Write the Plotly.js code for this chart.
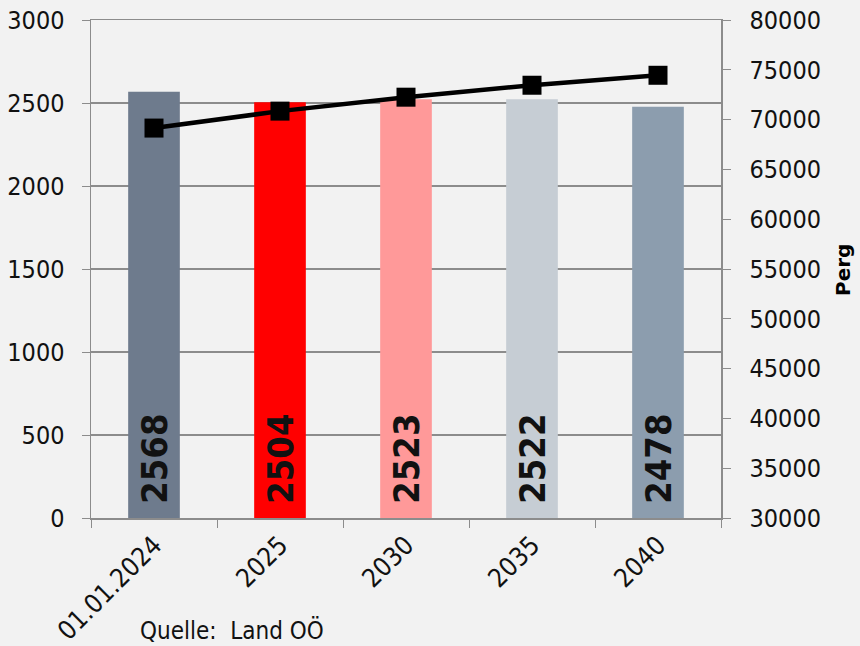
<!DOCTYPE html>
<html><head><meta charset="utf-8">
<script src="https://cdn.plot.ly/plotly-3.0.1.min.js"></script>
<style>body{margin:0;background:#F2F2F2}</style>
</head><body>
<div id="chart" style="width:860px;height:646px"></div>
<script>
const categories = ["01.01.2024", "2025", "2030", "2035", "2040"];
const barValues = [2568, 2504, 2523, 2522, 2478];
const lineValues = [69150, 70850, 72250, 73450, 74450];
const barColors = ["#6E7B8D", "#FF0000", "#FF9999", "#C6CDD4", "#8C9DAE"];
const leftTicks = [0, 500, 1000, 1500, 2000, 2500, 3000];
const rightTicks = [30000, 35000, 40000, 45000, 50000, 55000, 60000, 65000, 70000, 75000, 80000];

const fam = "'Liberation Sans Narrow', 'DejaVu Sans Condensed', 'DejaVu Sans', sans-serif";
const tickFont = {family: fam, size: 25, color: "#111", stretch: "condensed"};

const data = [
  {
    type: "bar", x: categories, y: barValues, width: 0.41,
    marker: {color: barColors},
    text: barValues.map(v => "\u00a0" + v), textposition: "inside", insidetextanchor: "start",
    textangle: -90, constraintext: "none",
    textfont: {family: "'DejaVu Sans Condensed', 'DejaVu Sans', sans-serif", size: 36, color: "#111", weight: "bold", stretch: "condensed"},
    hoverinfo: "skip", showlegend: false
  },
  {
    type: "scatter", mode: "lines+markers", x: categories, y: lineValues, yaxis: "y2",
    line: {color: "#000", width: 4.5},
    marker: {symbol: "square", size: 19, color: "#000"},
    showlegend: false, hoverinfo: "skip"
  }
];

const layout = {
  width: 860, height: 646,
  paper_bgcolor: "#F2F2F2", plot_bgcolor: "#F2F2F2",
  margin: {l: 91, r: 139, t: 20, b: 128},
  xaxis: {
    type: "category", tickangle: -45, tickfont: {family: fam, size: 26, color: "#111", stretch: "condensed"},
    showline: true, linecolor: "#8c8c8c", linewidth: 1.5, mirror: true,
    ticks: "outside", ticklen: 8, tickcolor: "#8c8c8c", tickson: "boundaries",
    showgrid: false, zeroline: false
  },
  yaxis: {
    range: [0, 3000], tickvals: leftTicks, tickfont: tickFont, tickformat: "d",
    showline: true, linecolor: "#8c8c8c", linewidth: 1.5,
    ticks: "outside", ticklen: 8, tickcolor: "#8c8c8c", ticklabelstandoff: 12,
    showgrid: true, gridcolor: "#8c8c8c", gridwidth: 1.5, zeroline: false
  },
  yaxis2: {
    range: [30000, 80000], tickvals: rightTicks, tickfont: tickFont, tickformat: "d",
    overlaying: "y", side: "right",
    showline: true, linecolor: "#8c8c8c", linewidth: 1.5,
    ticks: "outside", ticklen: 8, tickcolor: "#8c8c8c", ticklabelstandoff: 14,
    showgrid: false, zeroline: false
  },
  annotations: [
    {
      text: "Quelle:  Land OÖ", xref: "paper", yref: "paper",
      x: 0.075, y: -0.226, xanchor: "left", yanchor: "middle", showarrow: false,
      font: {family: fam, size: 24, color: "#111", stretch: "condensed"}
    },
    {
      text: "<b>Perg</b>", xref: "paper", yref: "paper", textangle: -90,
      x: 1.1937, y: 0.498, xanchor: "center", yanchor: "middle", showarrow: false,
      font: {family: "'DejaVu Sans', sans-serif", size: 20, color: "#000"}
    }
  ]
};

Plotly.newPlot("chart", data, layout, {displayModeBar: false, staticPlot: true});
</script>
</body></html>
